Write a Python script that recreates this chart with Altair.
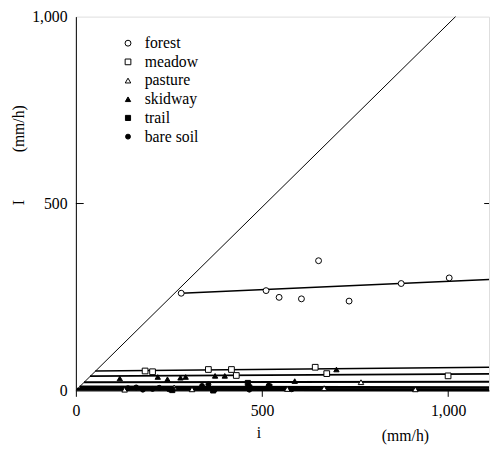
import altair as alt
import pandas as pd

# ---- data ----
forest_x = [283, 511, 546, 606, 652, 734, 874, 1003]
forest_y = [260, 267, 249, 245, 347, 239, 286, 301]
meadow_x = [186, 206, 356, 418, 431, 643, 674, 1000]
meadow_y = [52, 50, 56, 56, 40, 62, 45, 39]
pasture_x = [131, 264, 312, 568, 667, 766, 912]
pasture_y = [2, 8, 3, 4, 6, 22, 3]
skidway_x = [118, 220, 246, 281, 295, 374, 400, 518, 588, 700]
skidway_y = [32, 36, 30, 34, 36, 39, 39, 19, 25, 56]
trail_x = [259, 369, 462, 466, 520]
trail_y = [1, 0, 20, 8, 10]
bare_x = [140, 162, 180, 206, 224, 250, 339, 356, 373, 466, 580]
bare_y = [6, 8, 2, 4, 7, 3, 12, 16, 2, 2, 3]

categories = ["forest", "meadow", "pasture", "skidway", "trail", "bare soil"]
cat_shapes = ["circle", "square", "triangle-up", "triangle-up", "square", "circle"]
cat_fills = ["white", "white", "white", "black", "black", "black"]
cat_strokes = ["black"] * 6
cat_sizes = [36, 25, 36, 40, 16, 36]

# fitted lines per land use (start on the 1:1 line, run to the right edge)
line_cat = ["forest", "meadow", "skidway", "pasture", "trail", "bare soil"]
line_x0 = [283, 52, 38, 22, 10, 3]
line_y0 = [260, 52, 38, 22, 10, 3]
line_x1 = [1110, 1110, 1110, 1110, 1110, 1110]
line_y1 = [297, 62, 44, 23, 8, 2]
line_w = [1.5, 1.5, 1.8, 2.0, 2.5, 3.0]

diag_x = [0, 1020]
diag_y = [0, 1000]

x_ticks = [0, 500, 1000]
y_ticks = [0, 500, 1000]
x_max = 1110
y_max = 1000

# ---- tables ----
pts = []
for cat, xs_, ys_ in [("forest", forest_x, forest_y), ("meadow", meadow_x, meadow_y),
                      ("pasture", pasture_x, pasture_y), ("skidway", skidway_x, skidway_y),
                      ("trail", trail_x, trail_y), ("bare soil", bare_x, bare_y)]:
    for a, b in zip(xs_, ys_):
        pts.append({"cat": cat, "x": a, "y": b})
pts = pd.DataFrame(pts)

lines = []
for c, a0, b0, a1, b1, w in zip(line_cat, line_x0, line_y0, line_x1, line_y1, line_w):
    lines.append({"cat": c, "x": a0, "y": b0, "w": w, "o": 0})
    lines.append({"cat": c, "x": a1, "y": b1, "w": w, "o": 1})
lines = pd.DataFrame(lines)

diag = pd.DataFrame({"x": diag_x, "y": diag_y})

W, H = 420, 380
FONT = "Liberation Serif"
xsc = alt.Scale(domain=[0, x_max], nice=False, zero=False)
ysc = alt.Scale(domain=[0, y_max], nice=False)

xax = alt.Axis(values=x_ticks, format=",d", title=None, grid=False, tickSize=6,
               tickColor="black", labelPadding=6, labelFont=FONT, labelFontSize=16,
               labelColor="black", domainColor="black", labelFlush=False)
yax = alt.Axis(values=y_ticks, format=",d", title=None, grid=False, ticks=False,
               labelPadding=9, labelFont=FONT, labelFontSize=16, labelColor="black",
               domainColor="black", labelFlush=False)

diag_layer = alt.Chart(diag).mark_line(color="black", strokeWidth=1).encode(
    x=alt.X("x:Q", scale=xsc, axis=xax),
    y=alt.Y("y:Q", scale=ysc, axis=yax),
)

line_layer = alt.Chart(lines).mark_line(color="black").encode(
    x=alt.X("x:Q", scale=xsc),
    y=alt.Y("y:Q", scale=ysc),
    detail="cat:N",
    order="o:O",
    strokeWidth=alt.StrokeWidth("w:Q", scale=None, legend=None),
)

leg = alt.Legend(title=None, orient="none", legendX=45, legendY=19, labelFont=FONT,
                 labelFontSize=16, labelColor="black", rowPadding=3, labelOffset=9,
                 symbolStrokeWidth=1, padding=0)

pt_layer = alt.Chart(pts).mark_point(filled=True, strokeWidth=1, opacity=1).encode(
    x=alt.X("x:Q", scale=xsc),
    y=alt.Y("y:Q", scale=ysc),
    shape=alt.Shape("cat:N", scale=alt.Scale(domain=categories, range=cat_shapes), legend=leg),
    fill=alt.Fill("cat:N", scale=alt.Scale(domain=categories, range=cat_fills), legend=leg),
    stroke=alt.Stroke("cat:N", scale=alt.Scale(domain=categories, range=cat_strokes), legend=leg),
    size=alt.Size("cat:N", scale=alt.Scale(domain=categories, range=cat_sizes), legend=leg),
)

# inward ticks at 500 on the left and right frame
tick_df = pd.DataFrame({"x": [0, x_max - 13], "x2": [21, x_max], "y": [500, 500]})
tick_layer = alt.Chart(tick_df).mark_rule(color="black", strokeWidth=1).encode(
    x=alt.X("x:Q", scale=xsc), x2="x2:Q", y=alt.Y("y:Q", scale=ysc)
)

def label(txt, px, py, angle=0):
    return alt.Chart(pd.DataFrame({"t": [txt]})).mark_text(
        font=FONT, fontSize=16, color="black", angle=angle, align="center", baseline="middle"
    ).encode(x=alt.value(px), y=alt.value(py), text="t:N")

chart = alt.layer(
    diag_layer, line_layer, tick_layer, pt_layer,
    label("i", 186, 423), label("(mm/h)", 335, 426),
    label("I", -58, 189, 270), label("(mm/h)", -58, 114, 270),
).properties(
    width=W, height=H,
    padding={"left": 69, "top": 5, "right": 2, "bottom": 70},
    autosize=alt.AutoSizeParams(type="none"),
).configure_view(stroke="black", strokeWidth=1).configure(background="white")

chart.save("out.html", embed_options={"renderer": "svg", "actions": False})
